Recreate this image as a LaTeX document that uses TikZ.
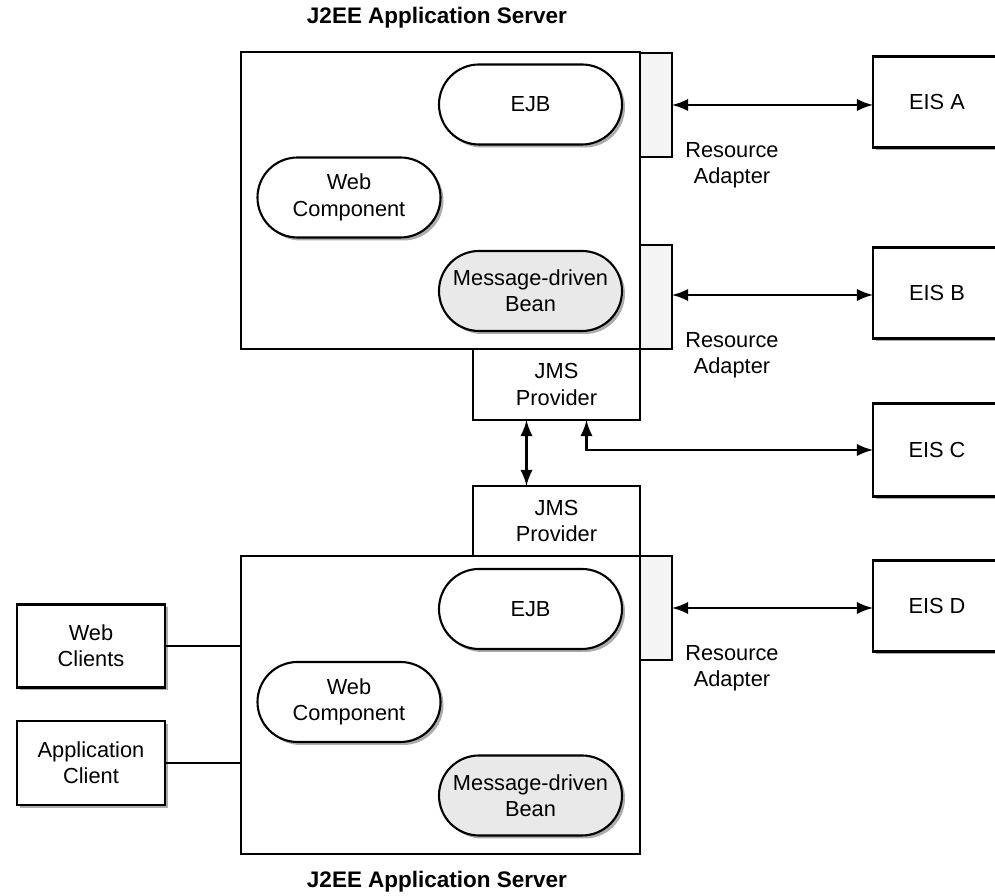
\documentclass[tikz,border=0pt]{standalone}
\usepackage{fontspec}
\setmainfont{Liberation Sans}
\usetikzlibrary{shapes.misc,shadows}

\begin{document}
\begin{tikzpicture}[x=1cm,y=-1cm,line width=0.6pt,
        font=\fontsize{6.2}{7.5}\selectfont,
        plain/.style={draw,rectangle,inner sep=0pt,outer sep=0pt,align=center},
        shade/.style={drop shadow={shadow xshift=0.03cm,shadow yshift=-0.03cm,fill=gray!65,opacity=1}},
        comp/.style={draw,rounded rectangle,fill=white,shade,minimum width=1.83cm,minimum height=0.8cm,inner sep=0pt,align=center},
        adapter/.style={plain,fill=gray!9,minimum width=0.32cm,minimum height=1.04cm},
        title/.style={font=\fontsize{6.4}{7.5}\selectfont\bfseries}]
        % 尺寸
        \newcommand{\srvw}{3.99cm}
        \newcommand{\srvh}{2.97cm}
        \newcommand{\eisw}{1.28cm}
        \newcommand{\eish}{0.91cm}

        \useasboundingbox (0,0) rectangle (9.95,8.96);

        % 两个 JMS Provider
        \node[plain,minimum width=1.67cm,minimum height=0.71cm] (jmsTop) at (5.565,3.845) {JMS\\Provider};
        \node[plain,minimum width=1.67cm,minimum height=0.70cm] (jmsBot) at (5.565,5.21) {JMS\\Provider};

        % 服务器
        \node[plain,fill=white,minimum width=\srvw,minimum height=\srvh] (srvTop) at (4.405,2.005) {};
        \node[plain,fill=white,minimum width=\srvw,minimum height=2.98cm] (srvBot) at (4.405,7.05) {};
        \node[title] (titleTop) at (4.37,0.18) {J2EE Application Server};
        \node[title] (titleBot) at (4.37,8.82) {J2EE Application Server};

        % 组件
        \node[comp] (ejbTop) at (5.305,1.045) {EJB};
        \node[comp] (webTop) at (3.49,1.975) {Web\\Component};
        \node[comp,fill=gray!17] (mdbTop) at (5.305,2.91) {Message-driven\\Bean};
        \node[comp] (ejbBot) at (5.305,6.09) {EJB};
        \node[comp] (webBot) at (3.49,7.02) {Web\\Component};
        \node[comp,fill=gray!17] (mdbBot) at (5.305,7.955) {Message-driven\\Bean};

        % Resource Adapter
        \node[adapter] (adA) at (6.56,1.05) {};
        \node[adapter] (adB) at (6.56,2.97) {};
        \node[adapter] (adD) at (6.56,6.08) {};
        \node[align=center] (labA) at (7.32,1.65) {Resource\\Adapter};
        \node[align=center] (labB) at (7.32,3.55) {Resource\\Adapter};
        \node[align=center] (labD) at (7.32,6.68) {Resource\\Adapter};

        % EIS
        \node[plain,fill=white,shade,minimum width=\eisw,minimum height=\eish] (eisA) at (9.37,1.02) {EIS A};
        \node[plain,fill=white,shade,minimum width=\eisw,minimum height=\eish] (eisB) at (9.37,2.93) {EIS B};
        \node[plain,fill=white,shade,minimum width=\eisw,minimum height=0.93cm] (eisC) at (9.37,4.50) {EIS C};
        \node[plain,fill=white,shade,minimum width=\eisw,minimum height=\eish] (eisD) at (9.37,6.06) {EIS D};

        % 客户端
        \node[plain,fill=white,shade,minimum width=1.48cm,minimum height=0.83cm] (webCl) at (0.91,6.46) {Web\\Clients};
        \node[plain,fill=white,shade,minimum width=1.48cm,minimum height=0.84cm] (appCl) at (0.91,7.63) {Application\\Client};

%画连线

\draw[latex-latex] (adA.east) -- (adA.east -| eisA.west);
\draw[latex-latex] ([yshift=0.02cm]adB.east) -- ([yshift=0.02cm]adB.east -| eisB.west);
\draw[latex-latex] (adD.east) -- (adD.east -| eisD.west);
\draw[latex-latex] ([xshift=-0.3cm]jmsTop.south) -- ([xshift=-0.3cm]jmsBot.north);
\draw[latex-latex] ([xshift=0.3cm]jmsTop.south) |- (eisC.west);

\draw (webCl.east) -- (webCl.east -| srvBot.west);
\draw (appCl.east) -- (appCl.east -| srvBot.west);
    \end{tikzpicture}
\end{document}
